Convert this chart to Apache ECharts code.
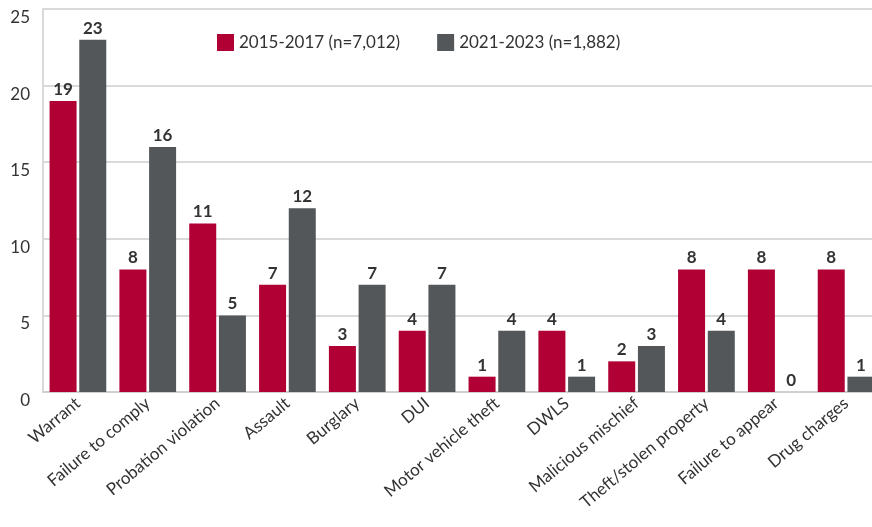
<!DOCTYPE html>
<html>
<head>
<meta charset="utf-8">
<script src="https://cdn.jsdelivr.net/npm/echarts@6/dist/echarts.min.js"></script>
<style>
  html, body { margin: 0; padding: 0; background: #fff; }
  #chart { width: 872px; height: 527px; }
</style>
</head>
<body>
<div id="chart"></div>
<script>
// Offense categories and the share (%) in each period
const categories = [
  'Warrant', 'Failure to comply', 'Probation violation', 'Assault', 'Burglary', 'DUI',
  'Motor vehicle theft', 'DWLS', 'Malicious mischief', 'Theft/stolen property',
  'Failure to appear', 'Drug charges'
];
const period1Name = '2015-2017 (n=7,012)';
const period2Name = '2021-2023 (n=1,882)';
const period1 = [19, 8, 11, 7, 3, 4, 1, 4, 2, 8, 8, 8];
const period2 = [23, 16, 5, 12, 7, 7, 4, 1, 3, 4, 0, 1];
const yTicks = [0, 5, 10, 15, 20, 25];

const FONT = 'Lato, "Open Sans", sans-serif';
const RED = '#B00034';
const GRAY = '#53575A';

const chart = echarts.init(document.getElementById('chart'));

const valueLabel = {
  show: true,
  position: 'top',
  distance: 3,
  color: '#333',
  fontFamily: FONT,
  fontWeight: 'bold',
  fontSize: 17
};

chart.setOption({
  animation: false,
  textStyle: { fontFamily: FONT },
  legend: {
    top: 29,
    left: 212,
    itemWidth: 17,
    itemHeight: 17,
    itemGap: 37,
    icon: 'rect',
    textStyle: { fontSize: 17, color: '#333', fontFamily: FONT },
    data: [period1Name, period2Name]
  },
  // the plot runs a little past the right edge of the canvas
  grid: {
    left: 43, width: 838, top: 9, height: 383,
    containLabel: false,
    outerBoundsMode: 'none'
  },
  xAxis: {
    type: 'category',
    data: categories,
    axisLine: { show: true, lineStyle: { color: '#d0d0d0', width: 2 } },
    axisTick: { show: false },
    axisLabel: {
      rotate: 40,
      interval: 0,
      margin: 9,
      fontSize: 17,
      color: '#333',
      fontFamily: FONT
    }
  },
  yAxis: {
    type: 'value',
    min: yTicks[0],
    max: yTicks[yTicks.length - 1],
    interval: 5,
    axisLine: { show: true, lineStyle: { color: '#d9d9d9', width: 2 } },
    axisTick: { show: false },
    splitLine: { show: true, lineStyle: { color: '#d9d9d9', width: 2 } },
    axisLabel: {
      margin: 13,
      fontSize: 17,
      color: '#333',
      fontFamily: FONT,
      verticalAlign: 'top'
    }
  },
  series: [
    {
      name: period1Name,
      type: 'bar',
      data: period1,
      barWidth: 27,
      barGap: '10%',
      itemStyle: { color: RED },
      label: valueLabel
    },
    {
      name: period2Name,
      type: 'bar',
      data: period2,
      barWidth: 27,
      itemStyle: { color: GRAY },
      label: valueLabel
    }
  ]
});
</script>
</body>
</html>
